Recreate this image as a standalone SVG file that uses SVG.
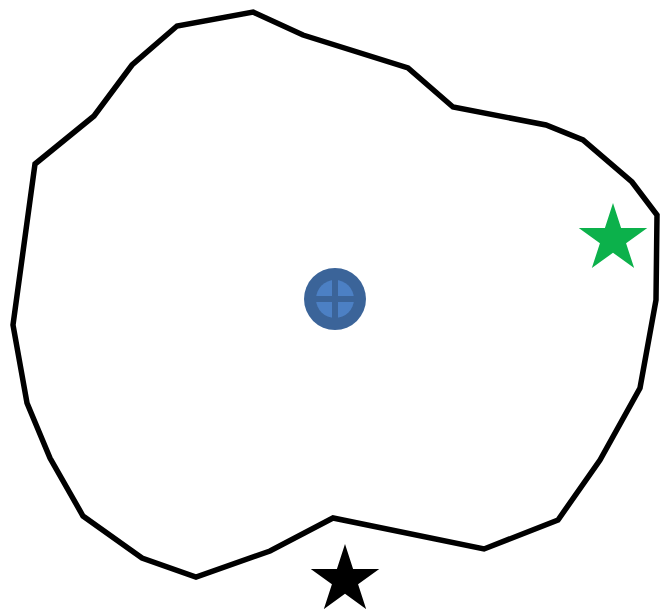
<svg xmlns="http://www.w3.org/2000/svg" xmlns:xlink="http://www.w3.org/1999/xlink" width="660" height="609" viewBox="0 0 660 609">
<style>
.outline{fill:#fff;stroke:#000;stroke-width:5.5;stroke-linejoin:miter}
</style>
<defs>
<path id="star" d="M0,-36 L8.08,-11.12 L34.24,-11.12 L13.08,4.25 L21.16,29.12 L0,13.75 L-21.16,29.12 L-13.08,4.25 L-34.24,-11.12 L-8.08,-11.12 Z"/>
</defs>
<rect width="660" height="609" fill="#fff"/>
<g id="region">
<polygon class="outline" points="35,164 94,116 132,65 177,26 253,12 303,35 408,68 453,107 546,125 583,140 632,182 657,215 656,300 640,388 600,460 558,520 484,549 333,518 270,551 196,577 142,558 83,516 50,458 27,403 13,325"/>
</g>
<g id="center">
<circle cx="335" cy="299" r="31" fill="#3b6499"/>
<circle cx="335" cy="299" r="19" fill="#4c80c4"/>
<rect x="332" y="280" width="6" height="38" fill="#3b6499"/>
<rect x="316" y="296" width="38" height="6" fill="#3b6499"/>
</g>
<g id="green-star">
<use xlink:href="#star" href="#star" x="613" y="239" fill="#0cb14b"/>
</g>
<g id="black-star">
<use xlink:href="#star" href="#star" x="345" y="580" fill="#000"/>
</g>
</svg>
